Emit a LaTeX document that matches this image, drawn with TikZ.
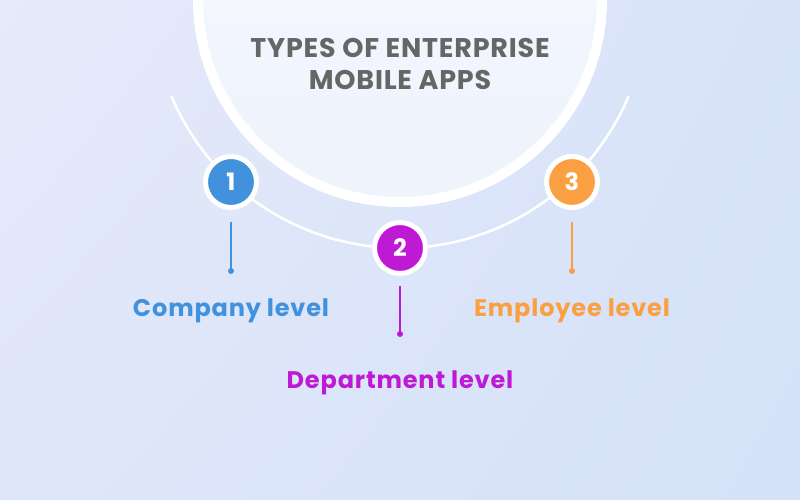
\documentclass[tikz,border=0pt]{standalone}
\usepackage{fontspec}
\setmainfont{Poppins}
\usetikzlibrary{positioning,shadings}

\definecolor{lvlblue}{RGB}{66,145,220}
\definecolor{lvlpurple}{RGB}{190,26,214}
\definecolor{lvlorange}{RGB}{251,160,66}
\definecolor{titlegray}{RGB}{102,102,102}
\definecolor{bgA}{RGB}{230,234,250}
\definecolor{bgB}{RGB}{212,225,248}

\tikzset{
  numbubble/.style={circle, fill=#1, draw=white, line width=5pt, minimum size=51pt,
    inner sep=0pt, text=white, font=\bfseries\fontsize{24}{24}\selectfont},
  lvltext/.style={text=#1, font=\bfseries\fontsize{24}{24}\selectfont\addfontfeatures{LetterSpace=3.5}},
  stem/.style={draw=#1, line width=2.5pt}
}

\begin{document}
\begin{tikzpicture}[x=1pt, y=-1pt]
   \useasboundingbox (0,0) rectangle (800,499);
   \shade[upper left=bgA, upper right=bgB!80!bgA, lower left=bgA!60!bgB, lower right=bgB]
      (0,0) rectangle (800,499);

   % big title circle
   \shade[top color=white!70!bgA, bottom color=bgB!40!white] (400,0) circle [radius=202];
   \draw[white, line width=10pt] (400,0) circle [radius=202];
   \node[text=titlegray, font=\bfseries\fontsize{27}{32}\selectfont\addfontfeatures{LetterSpace=3}, align=center] (title) at (400,64)
      {TYPES OF ENTERPRISE\\MOBILE APPS};

   % thin arc
   \draw[white, line width=2.5pt, line cap=round] (400,0) ++(157:248) arc[start angle=157, end angle=23, radius=248];

   % numbers
   \node[numbubble=lvlblue] (n1) at (231,182) {1};
   \node[numbubble=lvlpurple] (n2) at (400,248) {2};
   \node[numbubble=lvlorange] (n3) at (572,182) {3};

   % stems
   \coordinate (t1) at (231,222); \coordinate (d1) at (231,271);
   \coordinate (t2) at (400,286); \coordinate (d2) at (400,334);
   \coordinate (t3) at (572,222); \coordinate (d3) at (572,271);
   \draw[stem=lvlblue] (t1) -- (d1);
   \draw[stem=lvlpurple] (t2) -- (d2);
   \draw[stem=lvlorange] (t3) -- (d3);
   \fill[lvlblue] (d1) circle [radius=3];
   \fill[lvlpurple] (d2) circle [radius=3];
   \fill[lvlorange] (d3) circle [radius=3];

   % labels
   \node[lvltext=lvlblue] (l1) at (231,311) {Company level};
   \node[lvltext=lvlpurple] (l2) at (400,383) {Department level};
   \node[lvltext=lvlorange] (l3) at (572,311) {Employee level};
\end{tikzpicture}
\end{document}
